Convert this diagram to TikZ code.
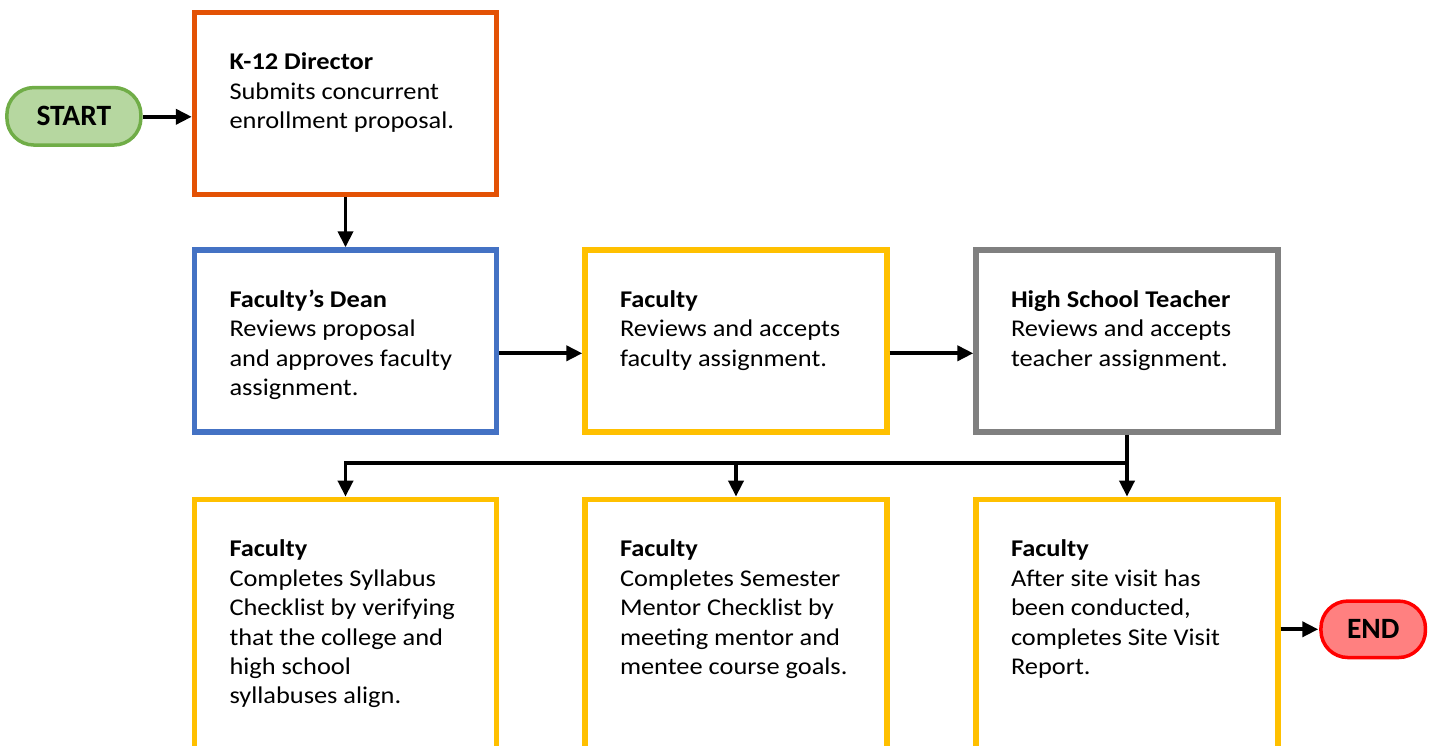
\documentclass[tikz,border=0pt]{standalone}
\usepackage{fontspec}
\setmainfont{Carlito}
\newfontfamily\boxfont{Carlito}[FakeStretch=1.1]
\usetikzlibrary{arrows.meta,calc}
\definecolor{orangeC}{HTML}{E35205}
\definecolor{blueC}{HTML}{4472C4}
\definecolor{yellowC}{HTML}{FFC000}
\definecolor{grayC}{HTML}{808080}
\definecolor{greenFill}{HTML}{B6D7A0}
\definecolor{greenLine}{HTML}{70AD47}
\definecolor{redFill}{HTML}{FF8080}
\definecolor{redLine}{HTML}{FF0000}
\newcommand\boxtxt[3]{\parbox[c][#1][t]{232pt}{\raggedright\rule{0pt}{57.5pt}\textbf{#2}\\#3}}
\begin{document}
\begin{tikzpicture}[x=1pt,y=-1pt,
  box/.style={draw=#1, line width=5.5pt, fill=white, inner xsep=35pt, inner ysep=0pt,
    outer sep=0pt, anchor=north west, font=\boxfont\fontsize{24}{29.4}\selectfont},
  term/.style={draw, line width=3.5pt, rounded corners=27pt, minimum width=134pt,
    minimum height=57.5pt, inner sep=0pt, outer sep=0pt, font=\bfseries\fontsize{29.5}{34}\selectfont},
  arr/.style={line width=3.8pt, -{Triangle[length=16pt,width=15pt]}, shorten >=2.7pt, shorten <=2.5pt},
  link/.style={line width=3.8pt},
]
\path[use as bounding box, clip] (0,0) rectangle (1432,746);

\node[term, draw=greenLine, fill=greenFill] (start) at (73.9,116.3) {START};
\node[term, draw=redLine, fill=redFill, minimum width=104.5pt, minimum height=56.5pt] (endn) at (1373.2,629.3) {END};

\node[box=orangeC] (b1) at (194.5,12.5) {\boxtxt{182pt}{K-12 Director}{Submits concurrent\\enrollment proposal.}};

\node[box=blueC] (b2) at (194.5,250) {\boxtxt{182pt}{Faculty’s Dean}{Reviews proposal\\and approves faculty\\assignment.}};
\node[box=yellowC] (b3) at (585,250) {\boxtxt{182pt}{Faculty}{Reviews and accepts\\faculty assignment.}};
\node[box=grayC] (b4) at (976,250) {\boxtxt{182pt}{High School Teacher}{Reviews and accepts\\teacher assignment.}};

\node[box=yellowC] (c1) at (194.5,499.3) {\boxtxt{300pt}{Faculty}{Completes Syllabus\\Checklist by verifying\\that the college and\\high school\\syllabuses align.}};
\node[box=yellowC] (c2) at (585,499.3) {\boxtxt{300pt}{Faculty}{Completes Semester\\Mentor Checklist by\\meeting mentor and\\mentee course goals.}};
\node[box=yellowC] (c3) at (976,499.3) {\boxtxt{300pt}{Faculty}{After site visit has\\been conducted,\\completes Site Visit\\Report.}};

\coordinate (j) at (b4.south |- 0,462.7);

\draw[arr] (start.east |- 0,116.8) -- (b1.west |- 0,116.8);
\draw[arr] (b1.south) -- (b2.north);
\draw[arr] (b2.east |- 0,353.3) -- (b3.west |- 0,353.3);
\draw[arr] (b3.east |- 0,353.3) -- (b4.west |- 0,353.3);
\draw[link, shorten <=2.5pt] (b4.south) -- (j);
\draw[arr, shorten <=0pt] (j) -- (c3.north);
\draw[arr, shorten <=0pt] (j) -| (c1.north);
\draw[arr, shorten <=0pt] (c2.north |- j) -- (c2.north);
\draw[arr] (endn.west -| c3.east) -- (endn.west);
\end{tikzpicture}
\end{document}
